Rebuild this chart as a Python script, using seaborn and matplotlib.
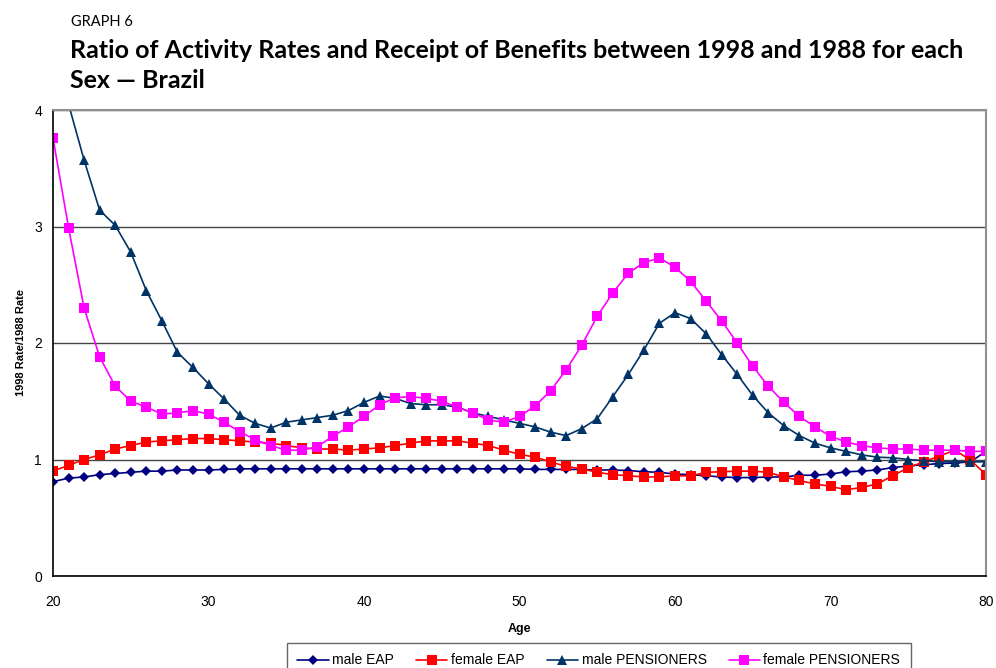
import numpy as np
import pandas as pd
import seaborn as sns
import matplotlib.pyplot as plt

ages = np.arange(20, 81)

male_eap = [0.81, 0.84, 0.85, 0.87, 0.88, 0.89, 0.90, 0.90, 0.91, 0.91,
            0.91, 0.915, 0.92, 0.92, 0.92, 0.92, 0.92, 0.92, 0.92, 0.92,
            0.92, 0.92, 0.92, 0.92, 0.92, 0.92, 0.92, 0.92, 0.92, 0.92,
            0.92, 0.915, 0.915, 0.915, 0.915, 0.91, 0.91, 0.905, 0.895, 0.89,
            0.875, 0.87, 0.86, 0.85, 0.845, 0.845, 0.85, 0.85, 0.865, 0.865,
            0.875, 0.895, 0.90, 0.91, 0.93, 0.945, 0.955, 0.965, 0.97, 0.98,
            1.07]
female_eap = [0.90, 0.95, 1.00, 1.04, 1.09, 1.12, 1.15, 1.16, 1.17, 1.18,
              1.18, 1.17, 1.16, 1.15, 1.14, 1.12, 1.10, 1.09, 1.09, 1.08,
              1.09, 1.10, 1.12, 1.14, 1.16, 1.16, 1.16, 1.14, 1.12, 1.08,
              1.045, 1.02, 0.98, 0.94, 0.92, 0.89, 0.87, 0.86, 0.85, 0.85,
              0.86, 0.86, 0.89, 0.895, 0.90, 0.90, 0.89, 0.85, 0.82, 0.79,
              0.77, 0.74, 0.76, 0.79, 0.86, 0.93, 0.98, 1.03, 1.08, 0.995,
              0.87]
male_pens = [5.2, 4.05, 3.57, 3.14, 3.01, 2.78, 2.45, 2.19, 1.92, 1.79,
             1.65, 1.52, 1.38, 1.31, 1.27, 1.32, 1.34, 1.36, 1.38, 1.42,
             1.49, 1.545, 1.525, 1.48, 1.47, 1.47, 1.45, 1.40, 1.37, 1.34,
             1.31, 1.28, 1.235, 1.205, 1.265, 1.35, 1.54, 1.73, 1.94, 2.17,
             2.26, 2.21, 2.08, 1.90, 1.73, 1.55, 1.40, 1.29, 1.205, 1.14,
             1.10, 1.07, 1.04, 1.02, 1.015, 1.00, 0.99, 0.98, 0.98, 0.98,
             0.98]
female_pens = [3.76, 2.99, 2.30, 1.88, 1.63, 1.50, 1.45, 1.39, 1.40, 1.42,
               1.39, 1.32, 1.24, 1.17, 1.12, 1.08, 1.08, 1.11, 1.20, 1.28,
               1.37, 1.47, 1.53, 1.54, 1.525, 1.50, 1.45, 1.40, 1.34, 1.32,
               1.37, 1.46, 1.59, 1.77, 1.98, 2.23, 2.43, 2.60, 2.69, 2.73,
               2.65, 2.53, 2.36, 2.19, 2.00, 1.80, 1.63, 1.49, 1.37, 1.28,
               1.20, 1.15, 1.12, 1.10, 1.09, 1.09, 1.08, 1.08, 1.08, 1.07,
               1.07]

series_names = ['male EAP', 'female EAP', 'male PENSIONERS', 'female PENSIONERS']
series_values = [male_eap, female_eap, male_pens, female_pens]
colors = ['#000080', '#FF0000', '#003366', '#FF00FF']
markers = ['D', 's', '^', 's']
sizes = [5.0, 7.5, 7, 7.5]

sns.set_style('white')
plt.rcParams['font.family'] = ['Liberation Sans', 'DejaVu Sans']
plt.rcParams['text.color'] = 'black'
plt.rcParams['axes.labelcolor'] = 'black'

fig = plt.figure(figsize=(9.96, 6.68), dpi=100)
ax = fig.add_axes([53 / 996, 1 - 576 / 668, (986 - 53) / 996, (576 - 110) / 668])

for name, vals, c, m, s in zip(series_names, series_values, colors, markers, sizes):
    df = pd.DataFrame({'Age': ages, 'ratio': vals})
    sns.lineplot(data=df, x='Age', y='ratio', color=c, marker=m, markersize=s,
                 markeredgewidth=0, linewidth=1.2, label=name, ax=ax)

ax.set_xlim(20, 80)
ax.set_ylim(0, 4)
ax.set_xticks([20, 30, 40, 50, 60, 70, 80])
ax.set_yticks([0, 1, 2, 3, 4])
ax.yaxis.grid(True, color='#454545', linewidth=1)
ax.xaxis.grid(False)
ax.tick_params(axis='both', direction='out', length=4, width=1, colors='black',
               labelsize=10, pad=4)
ax.tick_params(axis='x', pad=10)
for side in ['left', 'bottom']:
    ax.spines[side].set_color('black')
    ax.spines[side].set_linewidth(1.2)
for side in ['top', 'right']:
    ax.spines[side].set_color('#909090')
    ax.spines[side].set_linewidth(1.5)

ax.set_xlabel('Age', fontsize=9, fontweight='bold', labelpad=10, color='black')
ax.set_ylabel('1998 Rate/1988 Rate', fontsize=8, fontweight='bold', labelpad=6,
              color='black')

handles, labels = ax.get_legend_handles_labels()
ax.get_legend().remove()
leg = fig.legend(handles, labels, loc='upper left', ncol=4,
                 bbox_to_anchor=(287 / 996, 1 - 643 / 668), fontsize=10,
                 frameon=True, fancybox=False, edgecolor='#404040',
                 handlelength=2.25, handletextpad=0.25, columnspacing=1.6,
                 borderpad=0.75, borderaxespad=0)
leg.get_frame().set_linewidth(1)
for txt in leg.get_texts():
    txt.set_color('black')

title_font = ['Lato', 'DejaVu Sans']
fig.text(71 / 996, 1 - 25.5 / 668, 'GRAPH 6', fontsize=10.5, va='baseline',
         family=title_font, color='black')
t1 = fig.text(70 / 996, 1 - 58 / 668,
              'Ratio of Activity Rates and Receipt of Benefits between 1998 and 1988 for each',
              fontsize=20, fontweight='bold', va='baseline', ha='left',
              family=title_font, color='black')
t2 = fig.text(70 / 996, 1 - 87.5 / 668, 'Sex \u2014 Brazil',
              fontsize=20, fontweight='bold', va='baseline', ha='left',
              family=title_font, color='black')

# squeeze the title to the width it has in the original
fig.canvas.draw()
w = t1.get_window_extent(renderer=fig.canvas.get_renderer()).width
if w > 893:
    t1.set_fontsize(20 * 893 / w)
    t2.set_fontsize(20 * 893 / w)

fig.savefig('out.png', dpi=100)
